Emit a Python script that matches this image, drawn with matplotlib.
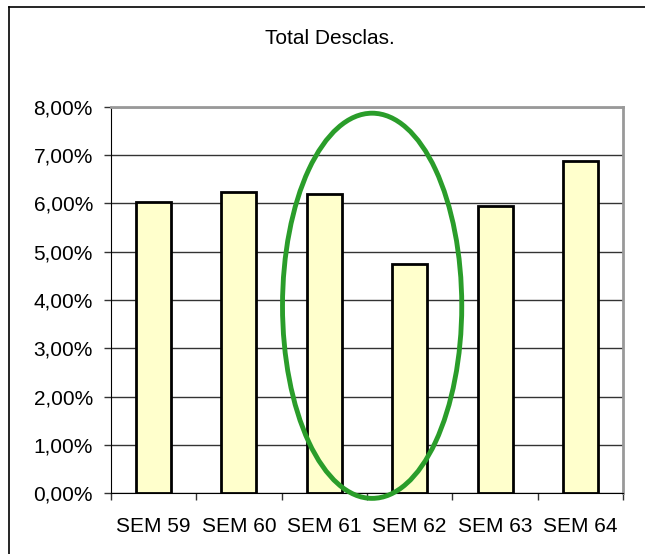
import matplotlib.pyplot as plt
from matplotlib.patches import Ellipse
from matplotlib.lines import Line2D
from matplotlib.ticker import FuncFormatter, MultipleLocator

plt.rcParams['font.family'] = ['Liberation Sans', 'DejaVu Sans']

# Data
weeks = ["SEM 59", "SEM 60", "SEM 61", "SEM 62", "SEM 63", "SEM 64"]
desclas = [6.03, 6.24, 6.20, 4.75, 5.95, 6.88]  # percent

fig = plt.figure(figsize=(6.45, 5.54), dpi=100)
ax = fig.add_axes([0.172, 0.110, 0.794, 0.697])

x = range(len(weeks))
ax.bar(x, desclas, width=0.41, color='#FFFFCC', edgecolor='black', linewidth=2.0, zorder=3)

# axes and grid
ax.set_xlim(-0.5, len(weeks) - 0.5)
ax.set_ylim(0, 8)
ax.yaxis.set_major_locator(MultipleLocator(1))
ax.yaxis.set_major_formatter(FuncFormatter(lambda v, p: f"{v:.2f}".replace('.', ',') + '%'))
ax.grid(axis='y', color='#333333', linewidth=1.0, zorder=0)

ax.set_xticks(list(x))
ax.set_xticklabels(weeks)
ax.set_xticks([i + 0.5 for i in range(-1, len(weeks))], minor=True)
ax.tick_params(axis='x', which='major', length=0, pad=17, labelsize=15)
ax.tick_params(axis='x', which='minor', length=5, width=1, color='#333333', direction='out')
ax.tick_params(axis='y', length=5, width=1, pad=8, labelsize=15, color='#333333')

ax.spines['left'].set_color('black')
ax.spines['bottom'].set_color('black')
ax.spines['top'].set_color('#999999')
ax.spines['right'].set_color('#999999')
ax.spines['top'].set_linewidth(2)
ax.spines['right'].set_linewidth(2)

fig.text(0.512, 0.93, "Total Desclas.", ha='center', va='center', fontsize=15)

# green highlight around SEM 61 / SEM 62
ell = Ellipse((2.56, 3.88), width=2.1, height=7.98, fill=False,
              edgecolor='#2A9D2A', linewidth=3.5, clip_on=False, zorder=5)
ax.add_patch(ell)

# figure frame (left and top edges)
fig.add_artist(Line2D([9 / 645, 9 / 645], [0, 1 - 7 / 554], transform=fig.transFigure,
                      color='black', linewidth=1.2))
fig.add_artist(Line2D([9 / 645, 1], [1 - 7 / 554, 1 - 7 / 554], transform=fig.transFigure,
                      color='black', linewidth=1.2))

fig.savefig("out.png", dpi=100)
